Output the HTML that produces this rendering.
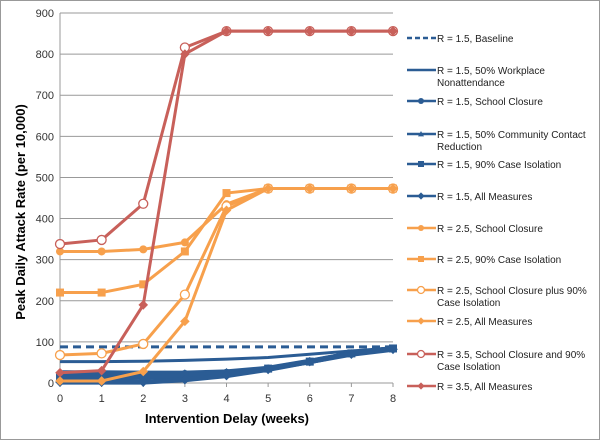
<!DOCTYPE html>
<html><head><meta charset="utf-8"><style>
body{margin:0;background:#fff;font-family:"Liberation Sans",sans-serif}
svg text{font-family:"Liberation Sans",sans-serif}
</style></head><body>
<svg id="chart" width="600" height="440" xmlns="http://www.w3.org/2000/svg">
<rect x="0.5" y="0.5" width="599" height="439" fill="#fff" stroke="#999"/>
<g id="grid"></g>
<g id="axes"></g>
<g id="series"></g>
<g id="legend"></g>
<text x="227" y="423" font-size="13" font-weight="bold" text-anchor="middle">Intervention Delay (weeks)</text>
<text transform="translate(25,212) rotate(-90)" font-size="13" font-weight="bold" text-anchor="middle">Peak Daily Attack Rate (per 10,000)</text>
</svg>
<script>
const categories=[0,1,2,3,4,5,6,7,8];
const yTicks=[0,100,200,300,400,500,600,700,800,900];
const seriesNames=["R = 1.5, Baseline","R = 1.5, 50% Workplace|Nonattendance","R = 1.5, School Closure","R = 1.5, 50% Community Contact|Reduction","R = 1.5, 90% Case Isolation","R = 1.5, All Measures","R = 2.5, School Closure","R = 2.5, 90% Case Isolation","R = 2.5, School Closure plus 90%|Case Isolation","R = 2.5, All Measures","R = 3.5, School Closure and 90%|Case Isolation","R = 3.5, All Measures"];
const sBaseline=[88,88,88,88,88,88,88,88,88];
const sWorkplace=[52,52,53,55,58,62,70,78,85];
const sSchool15=[20,22,22,22,25,35,52,72,84];
const sCommunity=[25,25,24,24,27,36,53,72,84];
const sCase15=[12,12,14,18,23,35,52,72,84];
const sAll15=[2,2,2,8,18,33,52,70,82];
const sSchool25=[320,320,325,342,435,473,473,473,473];
const sCase25=[220,220,240,320,462,473,473,473,473];
const sSchoolCase25=[68,72,95,215,430,473,473,473,473];
const sAll25=[5,5,28,150,420,473,473,473,473];
const sSchoolCase35=[338,348,436,816,856,856,856,856,856];
const sAll35=[25,30,190,800,856,856,856,856,856];
const seriesData=[sBaseline,sWorkplace,sSchool15,sCommunity,sCase15,sAll15,sSchool25,sCase25,sSchoolCase25,sAll25,sSchoolCase35,sAll35];
const B="#2b5c94",O="#f7a04c",R="#c8605a";
const styles=[[B,3,"none",true],[B,3,"none"],[B,5,"circle"],[B,5,"tri"],[B,5,"square"],[B,5,"diamond"],[O,3,"circle"],[O,3,"square"],[O,3,"ocircle"],[O,3,"diamond"],[R,3,"ocircle"],[R,3,"diamond"]];
const NS="http://www.w3.org/2000/svg";
const X0=60,X1=393,Y0=383,Y9=13;
const xs=v=>X0+(X1-X0)*v/8;
const ys=v=>Y0-(Y0-Y9)*v/900;
function mk(tag,attrs,parent){const e=document.createElementNS(NS,tag);for(const k in attrs)e.setAttribute(k,attrs[k]);parent.appendChild(e);return e;}
const grid=document.getElementById('grid'),axes=document.getElementById('axes'),ser=document.getElementById('series'),leg=document.getElementById('legend');
yTicks.forEach(t=>{
 const l=mk('line',{x1:X0,x2:X1,y1:ys(t),y2:ys(t),stroke:'#999','stroke-width':1},grid);
 
 
 const tx=mk('text',{x:X0-6,y:ys(t)+4,'font-size':11,'text-anchor':'end',fill:'#333'},axes);tx.textContent=t;
 
 
});
const ax=mk('line',{x1:X0,x2:X0,y1:Y9,y2:Y0,stroke:'#999'},axes);


categories.forEach(c=>{
 mk('line',{x1:xs(c),x2:xs(c),y1:Y0,y2:Y0+4,stroke:'#999'},axes);
 const tx=mk('text',{x:xs(c),y:Y0+19,'font-size':11,'text-anchor':'middle',fill:'#333'},axes);tx.textContent=c;
 
 
});
function marker(type,x,y,col,sz,g){
 const s=sz;
 if(type==='circle')return mk('circle',{cx:x,cy:y,r:s,fill:col},g);
 if(type==='ocircle')return mk('circle',{cx:x,cy:y,r:s,fill:'#fff',stroke:col,'stroke-width':1.3},g);
 if(type==='square')return mk('rect',{x:x-s,y:y-s,width:2*s,height:2*s,fill:col},g);
 if(type==='diamond')return mk('polygon',{points:`${x},${y-s*1.2} ${x+s*1.2},${y} ${x},${y+s*1.2} ${x-s*1.2},${y}`,fill:col},g);
 if(type==='tri')return mk('polygon',{points:`${x},${y-s} ${x+s},${y+s*0.8} ${x-s},${y+s*0.8}`,fill:col},g);
}
seriesData.forEach((d,i)=>{
 const [col,w,m,dash]=styles[i];
 const g=mk('g',{},ser);
 
 
 const p=mk('polyline',{points:d.map((v,j)=>xs(categories[j])+','+ys(v)).join(' '),fill:'none',stroke:col,'stroke-width':w,'stroke-linejoin':'round'},g);
 if(dash)p.setAttribute('stroke-dasharray','8,5');
 if(m!=='none')d.forEach((v,j)=>{const e=marker(m,xs(categories[j]),ys(v),col,m==='ocircle'?4.5:4,g);
  
  });
 const ly=[38,70,101,134,164,196,228,259,290,321,354,386][i];
 const lg=mk('g',{},leg);
 
 
 const ll=mk('line',{x1:407,x2:436,y1:ly,y2:ly,stroke:col,'stroke-width':2.5},lg);
 if(dash)ll.setAttribute('stroke-dasharray','5,3');
 if(m!=='none')marker(m,421,ly,col,m==='ocircle'?3.5:3,lg);
 seriesNames[i].split('|').forEach((t,k)=>{const tx=mk('text',{x:437,y:ly+4+k*12,'font-size':10,fill:'#222'},lg);tx.textContent=t;});
});
</script>
</body></html>
